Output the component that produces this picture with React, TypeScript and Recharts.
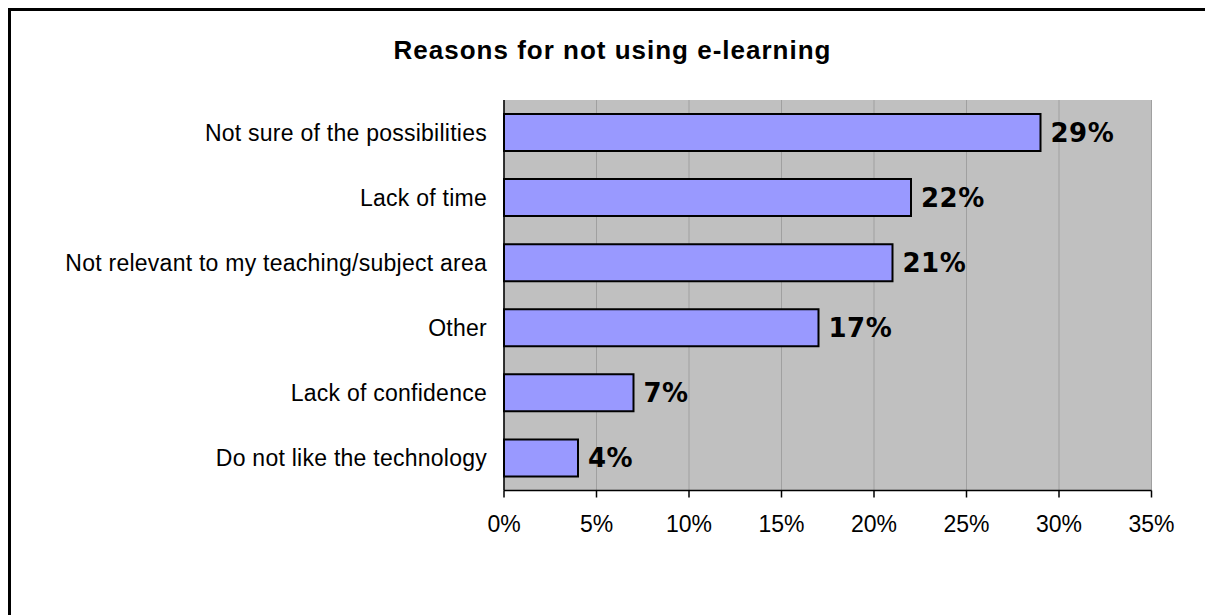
import {
  BarChart,
  Bar,
  XAxis,
  YAxis,
  CartesianGrid,
  LabelList,
} from "recharts";

const categories = [
  "Not sure of the possibilities",
  "Lack of time",
  "Not relevant to my teaching/subject area",
  "Other",
  "Lack of confidence",
  "Do not like the technology",
];

const values = [29, 22, 21, 17, 7, 4];

const xTicks = [0, 5, 10, 15, 20, 25, 30, 35];

// band edges for the little ticks between categories
const bandEdges = [0, 1, 2, 3, 4, 5, 6];

const chartData = categories.map((name, i) => ({ name, value: values[i] }));

const font = "'Liberation Sans', Arial, sans-serif";

export default function App() {
  return (
    <div style={{ position: "relative", width: 1205, height: 607 }}>
      <style>{"body{overflow:hidden}"}</style>
      <div
        style={{
          position: "absolute",
          left: 0,
          top: 0,
          width: 1205,
          height: 607,
          borderLeft: "3px solid #000",
          borderTop: "3px solid #000",
          boxSizing: "border-box",
        }}
      />
      <div
        style={{
          position: "absolute",
          left: 0,
          top: 27,
          width: 1209,
          textAlign: "center",
          fontFamily: font,
          fontWeight: "bold",
          fontSize: 26,
          letterSpacing: 1,
          lineHeight: "30px",
          color: "#000",
        }}
      >
        Reasons for not using e-learning
      </div>
      <div style={{ position: "absolute", left: 0, top: 0 }}>
        <BarChart
          width={1205}
          height={607}
          data={chartData}
          layout="vertical"
          margin={{ top: 92, right: 61.5, bottom: 84.5, left: 0 }}
        >
          <CartesianGrid
            horizontal={false}
            stroke="#a0a0a0"
            fill="#c0c0c0"
            fillOpacity={1}
          />
          <XAxis
            type="number"
            domain={[0, 35]}
            ticks={xTicks}
            tickFormatter={(v) => `${v}%`}
            axisLine={{ stroke: "#000", strokeWidth: 1.5 }}
            tickLine={{ stroke: "#000", strokeWidth: 1.5 }}
            tickSize={7}
            tickMargin={18}
            height={40}
            tick={{
              fill: "#000",
              fontSize: 23,
              fontFamily: font,
            }}
          />
          <XAxis
            xAxisId="top"
            orientation="top"
            type="number"
            domain={[0, 35]}
            height={0}
            tick={false}
            tickLine={false}
            axisLine={{ stroke: "#909090", strokeWidth: 2 }}
          />
          <YAxis
            type="category"
            dataKey="name"
            width={496}
            tickLine={false}
            tickSize={0}
            tickMargin={17}
            axisLine={{ stroke: "#000", strokeWidth: 1.5 }}
            tick={{
              fill: "#000",
              fontSize: 23,
              fontFamily: font,
              letterSpacing: 0.25,
            }}
          />
          <YAxis
            yAxisId="edges"
            type="number"
            domain={[0, 6]}
            ticks={bandEdges}
            width={0}
            tick={false}
            tickSize={6}
            axisLine={false}
            tickLine={{ stroke: "#000", strokeWidth: 1.5 }}
          />
          <Bar
            dataKey="value"
            fill="#9999ff"
            stroke="#000"
            strokeWidth={2}
            barSize={37}
            isAnimationActive={false}
          >
            <LabelList
              dataKey="value"
              position="right"
              offset={10}
              formatter={(v: any) => `${v}%`}
              fill="#000"
              style={{
                fontFamily: "'DejaVu Sans', Verdana, sans-serif",
                fontWeight: "bold",
                fontSize: 26,
                letterSpacing: 0.5,
              }}
            />
          </Bar>
        </BarChart>
      </div>
    </div>
  );
}
